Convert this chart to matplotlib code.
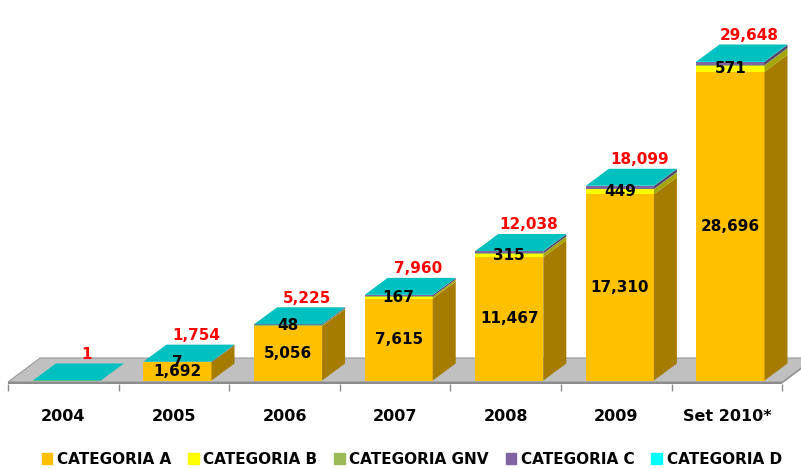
import matplotlib
matplotlib.use("Agg")
import matplotlib.pyplot as plt
from matplotlib.patches import Polygon, Patch

years = ["2004", "2005", "2006", "2007", "2008", "2009", "Set 2010*"]
cat_a = [0, 1692, 5056, 7615, 11467, 17310, 28696]
cat_b = [0, 7, 48, 167, 315, 449, 571]
cat_gnv = [1, 10, 20, 30, 40, 50, 60]   # not labelled in the source, estimated
cat_c = [0, 40, 90, 130, 190, 260, 290]  # not labelled, estimated
cat_d = [0, 5, 11, 18, 26, 30, 31]       # not labelled, estimated
totals = [1, 1754, 5225, 7960, 12038, 18099, 29648]

names = ["CATEGORIA A", "CATEGORIA B", "CATEGORIA GNV", "CATEGORIA C", "CATEGORIA D"]
front_cols = ["#FFC000", "#FFFF00", "#9BBB59", "#8064A2", "#00FFFF"]
side_cols = ["#A67C00", "#A6A600", "#65793A", "#534169", "#00A6A6"]
top_col = "#00C0C0"

plt.rcParams['font.family'] = ['DejaVu Sans']

px = 92.94          # value units per pixel
unit = 110.6        # pixels per category
dx = 23 / unit      # depth of bars
dy = 17 * px
w = 0.615
off = -0.275

fig = plt.figure(figsize=(8.01, 4.69), dpi=100)
ax = fig.add_axes([0, (469 - 383.5) / 469, 1, 383.5 / 469])
ax.set_xlim((0 - 8) / unit - 0.5, (801 - 8) / unit - 0.5)
ax.set_ylim(-3 * px, 380.5 * px)
for s in ax.spines.values():
    s.set_visible(False)

# floor
n = len(years)
fy = -1.5 * px
fdx, fdy = 0.29, 24 * px
ax.add_patch(Polygon([(-0.5, fy), (n - 0.5, fy), (n - 0.5 + fdx, fy + fdy), (-0.5 + fdx, fy + fdy)],
                     closed=True, fc="#C0C0C0", ec="#9A9A9A", lw=0.8, zorder=1))
ax.add_patch(Polygon([(-0.5, fy), (n - 0.5, fy), (n - 0.5, -3 * px), (-0.5, -3 * px)],
                     closed=True, fc="#8C8C8C", ec="none", zorder=1))
ax.add_patch(Polygon([(n - 0.5, fy), (n - 0.5 + fdx, fy + fdy), (n - 0.5 + fdx, fy + fdy - 1.5 * px), (n - 0.5, -3 * px)],
                     closed=True, fc="#8C8C8C", ec="none", zorder=1))

series = [cat_a, cat_b, cat_gnv, cat_c, cat_d]
for i in range(n):
    x0 = i + off
    x1 = x0 + w
    bottom = 0
    for k, vals in enumerate(series):
        h = vals[i]
        if h <= 0:
            continue
        ax.bar(x0, h, width=w, bottom=bottom, align='edge', color=front_cols[k], lw=0, zorder=3)
        ax.add_patch(Polygon([(x1, bottom), (x1 + dx, bottom + dy), (x1 + dx, bottom + h + dy), (x1, bottom + h)],
                             closed=True, fc=side_cols[k], ec="none", zorder=3))
        bottom += h
    ax.add_patch(Polygon([(x0, bottom), (x1, bottom), (x1 + dx, bottom + dy), (x0 + dx, bottom + dy)],
                         closed=True, fc=top_col, ec="none", zorder=3))

    xc = x0 + w / 2
    if cat_a[i] > 0:
        ax.text(xc, cat_a[i] / 2, f"{cat_a[i]:,}", ha='center', va='center',
                fontsize=11, fontweight='bold', zorder=5)
    if cat_b[i] > 0:
        ax.text(xc, cat_a[i] + cat_b[i] / 2, f"{cat_b[i]:,}", ha='center', va='center',
                fontsize=11, fontweight='bold', zorder=5)
    ax.text(xc + dx / 2 + 0.07, totals[i] + dy + 9 * px, f"{totals[i]:,}", ha='center', va='center',
            fontsize=11, fontweight='bold', color='#FF0000', zorder=5)

ax.set_yticks([])
ax.set_xticks([i - 0.5 for i in range(n + 1)])
ax.set_xticklabels([])
ax.set_xticks(range(n), minor=True)
ax.set_xticklabels(years, minor=True, fontsize=11.5, fontweight='bold')
ax.tick_params(axis='x', which='major', length=5.25, width=1, color='#8C8C8C')
ax.tick_params(axis='x', which='minor', length=0, pad=18)

handles = [Patch(color=c, label=l) for c, l in zip(front_cols, names)]
fig.legend(handles=handles, loc='lower center', bbox_to_anchor=(0.514, -0.025), ncol=5, frameon=False,
           handlelength=0.7, handleheight=0.7, handletextpad=0.3, columnspacing=1.1,
           prop={'size': 11, 'weight': 'bold'})

fig.savefig("out.png", dpi=100)
